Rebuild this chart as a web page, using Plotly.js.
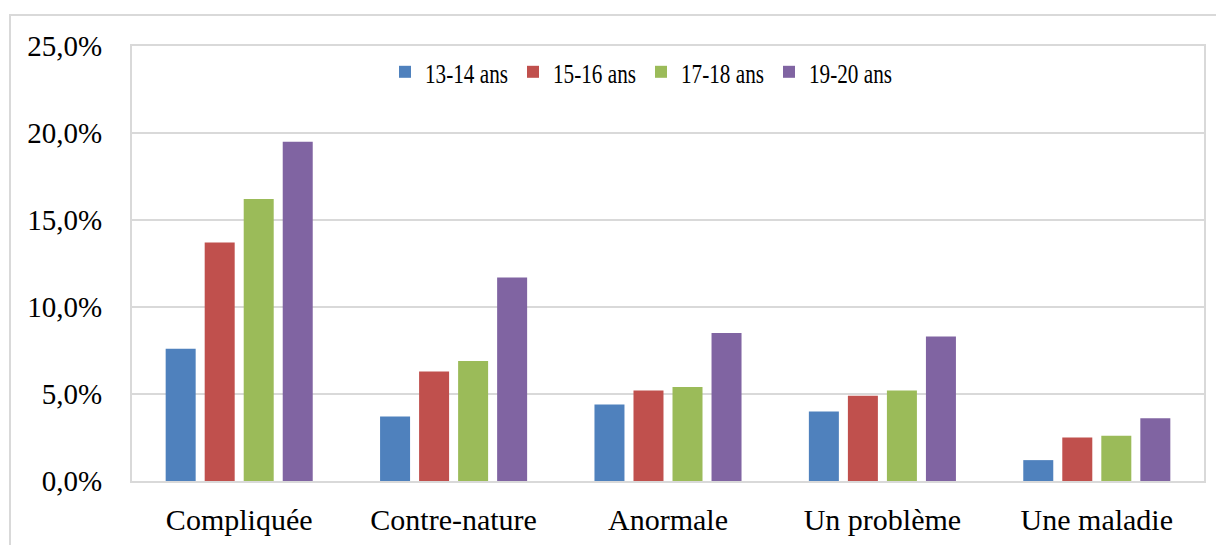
<!DOCTYPE html>
<html>
<head>
<meta charset="utf-8">
<script src="https://cdn.plot.ly/plotly-3.0.1.min.js"></script>
<style>
  html, body { margin: 0; padding: 0; background: #ffffff; }
  #chart { width: 1216px; height: 545px; }
</style>
</head>
<body>
<div id="chart"></div>
<script>
const categories = ["Compliquée", "Contre-nature", "Anormale", "Un problème", "Une maladie"];
const seriesNames = ["13-14 ans", "15-16 ans", "17-18 ans", "19-20 ans"];
const ans13_14 = [7.6, 3.7, 4.4, 4.0, 1.2];
const ans15_16 = [13.7, 6.3, 5.2, 4.9, 2.5];
const ans17_18 = [16.2, 6.9, 5.4, 5.2, 2.6];
const ans19_20 = [19.5, 11.7, 8.5, 8.3, 3.6];
const seriesValues = [ans13_14, ans15_16, ans17_18, ans19_20];
const seriesColors = ["#4F81BD", "#C0504D", "#9BBB59", "#8064A2"];
const yTickValues = [0, 5, 10, 15, 20, 25];
const yTickLabels = ["0,0%", "5,0%", "10,0%", "15,0%", "20,0%", "25,0%"];

const FONT = "Liberation Serif, Times New Roman, serif";
const GRID = "#d9d9d9";
const LEGEND_ENTRY = 83;

const traces = seriesNames.map((name, i) => ({
  type: "bar",
  name: name,
  x: categories,
  y: seriesValues[i],
  marker: { color: seriesColors[i], line: { width: 0 } },
  hoverinfo: "skip"
}));

const layout = {
  width: 1216,
  height: 545,
  margin: { l: 132, r: 12, t: 46, b: 64, pad: 0 },
  paper_bgcolor: "#ffffff",
  plot_bgcolor: "#ffffff",
  barmode: "group",
  bargap: 0.272,
  bargroupgap: 0.231,
  font: { family: FONT, color: "#000000", size: 29 },
  showlegend: true,
  legend: {
    orientation: "h",
    x: 0.236,
    xanchor: "left",
    y: 0.94,
    yanchor: "middle",
    bgcolor: "rgba(255,255,255,0)",
    font: { family: FONT, size: 28, color: "#000000" },
    entrywidth: LEGEND_ENTRY,
    entrywidthmode: "pixels",
    itemclick: false,
    itemdoubleclick: false,
    traceorder: "normal"
  },
  xaxis: {
    type: "category",
    showgrid: false,
    showline: true,
    linecolor: GRID,
    linewidth: 2,
    mirror: true,
    ticks: "",
    ticklabelstandoff: 11,
    tickfont: { family: FONT, size: 30, color: "#000000" },
    fixedrange: true
  },
  yaxis: {
    range: [0, 25],
    tickmode: "array",
    tickvals: yTickValues,
    ticktext: yTickLabels,
    showgrid: true,
    gridcolor: GRID,
    gridwidth: 2,
    zeroline: false,
    showline: true,
    linecolor: GRID,
    linewidth: 2,
    mirror: true,
    ticks: "",
    ticklabelstandoff: 22,
    tickfont: { family: FONT, size: 29, color: "#000000" },
    fixedrange: true
  },
  shapes: [{
    type: "rect",
    xref: "paper", yref: "paper",
    x0: -0.1138, x1: 1.02,
    y0: -0.17, y1: 1.0713,
    line: { color: GRID, width: 2 },
    fillcolor: "rgba(0,0,0,0)",
    layer: "below"
  }]
};

Plotly.newPlot("chart", traces, layout, { displayModeBar: false, staticPlot: true }).then(function (gd) {
  // The reference legend uses a horizontally condensed face: compress the real text to fit its entry.
  gd.querySelectorAll(".legendtext").forEach(function (t) {
    t.setAttribute("textLength", String(LEGEND_ENTRY));
    t.setAttribute("lengthAdjust", "spacingAndGlyphs");
  });
});
</script>
</body>
</html>
